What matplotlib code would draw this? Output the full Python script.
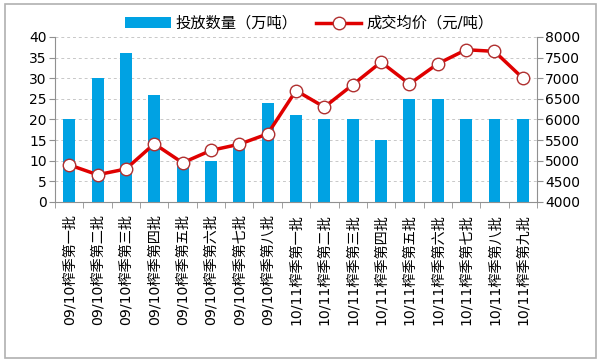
import matplotlib
matplotlib.use("Agg")
import matplotlib.pyplot as plt
from matplotlib.patches import Rectangle

plt.rcParams['font.family'] = ['DejaVu Sans', 'Noto Sans CJK SC']

categories = ["09/10榨季第一批", "09/10榨季第二批", "09/10榨季第三批", "09/10榨季第四批",
              "09/10榨季第五批", "09/10榨季第六批", "09/10榨季第七批", "09/10榨季第八批",
              "10/11榨季第一批", "10/11榨季第二批", "10/11榨季第三批", "10/11榨季第四批",
              "10/11榨季第五批", "10/11榨季第六批", "10/11榨季第七批", "10/11榨季第八批",
              "10/11榨季第九批"]
volume = [20, 30, 36, 26, 10, 10, 13, 24, 21, 20, 20, 15, 25, 25, 20, 20, 20]
price = [4900, 4660, 4800, 5410, 4950, 5250, 5400, 5650, 6700, 6300, 6840, 7390,
         6860, 7350, 7690, 7650, 7000]
bar_label = "投放数量（万吨）"
line_label = "成交均价（元/吨）"

fig = plt.figure(figsize=(6, 3.62), dpi=100)
fig.patches.append(Rectangle((0.008, 0.012), 0.985, 0.978, transform=fig.transFigure,
                             fill=False, edgecolor='#b0b0b0', linewidth=1.2))
ax = fig.add_axes([0.0917, 0.442, 0.8033, 0.456])
x = list(range(len(categories)))
bars = ax.bar(x, volume, width=0.42, color='#00A2E3', label=bar_label, zorder=2)
ax.set_ylim(0, 40)
ax.set_yticks(range(0, 41, 5))
ax.set_xlim(-0.5, len(categories) - 0.5)
ax.set_xticks(x)
ax.set_xticklabels(categories, rotation=90, fontsize=10.2)
ax.set_xticks([i + 0.5 for i in range(-1, len(categories))], minor=True)
ax.tick_params(axis='x', which='major', length=0, pad=9)
ax.tick_params(axis='x', which='minor', length=4, color='#909090', direction='out')
ax.tick_params(axis='y', labelsize=10, length=4, color='#909090', pad=2)
ax.grid(axis='y', linestyle=(0, (3, 3)), color='#c8c8c8', linewidth=0.7, zorder=0)
for s in ['top', 'right']:
    ax.spines[s].set_visible(False)
for s in ['left', 'bottom']:
    ax.spines[s].set_color('#909090')

ax2 = ax.twinx()
line, = ax2.plot(x, price, color='#E00000', linewidth=2.5, marker='o', markersize=9,
                 markerfacecolor='white', markeredgecolor='#B03030', markeredgewidth=1,
                 label=line_label, zorder=3)
ax2.set_ylim(4000, 8000)
ax2.set_yticks(range(4000, 8001, 500))
ax2.tick_params(axis='y', labelsize=10, length=4, color='#909090', pad=2)
for s in ['top', 'left', 'bottom']:
    ax2.spines[s].set_visible(False)
ax2.spines['right'].set_color('#909090')

fig.legend([bars, line], [bar_label, line_label], loc='center', ncol=2,
           bbox_to_anchor=(0.515, 0.935), frameon=False, fontsize=11,
           handlelength=3.0, columnspacing=1.2, handletextpad=0.3)

fig.savefig("out.png", dpi=100)
